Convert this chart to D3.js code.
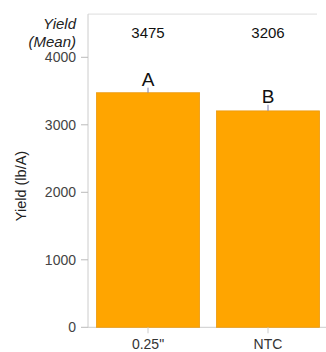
<!DOCTYPE html>
<html><head><meta charset="utf-8">
<script src="https://cdn.jsdelivr.net/npm/d3@7"></script>
<style>body{margin:0;background:#fff}svg{display:block}</style>
</head><body>
<svg id="c" width="326" height="352"></svg>
<script>
const categories = ["0.25\"", "NTC"];
const yieldMeans = [3475, 3206];
const errors = [75, 90];
const letters = ["A", "B"];
const yTicks = [0, 1000, 2000, 3000, 4000];

(function () {
const svg = d3.select("#c");
const font = "Liberation Sans, Arial, sans-serif";
const x = d3.scaleBand().domain(categories).range([88, 328]).paddingInner(0.14).paddingOuter(0.07);
const y = d3.scaleLinear().domain([0, 4000]).range([327.3, 57.3]);
const plotTop = y(4640);

// frame
svg.append("line").attr("x1", 88).attr("x2", 317).attr("y1", plotTop).attr("y2", plotTop).attr("stroke", "#ddd");
svg.append("line").attr("x1", 88).attr("x2", 88).attr("y1", plotTop).attr("y2", y(0)).attr("stroke", "#ccc");
svg.append("line").attr("x1", 88).attr("x2", 326).attr("y1", y(0)).attr("y2", y(0)).attr("stroke", "#ccc");

// y ticks
const yg = svg.append("g");
yg.selectAll("line").data(yTicks).join("line")
  .attr("x1", 81).attr("x2", 88).attr("y1", d => y(d)).attr("y2", d => y(d)).attr("stroke", "#bbb");
yg.selectAll("text").data(yTicks).join("text")
  .attr("x", 76).attr("y", d => y(d)).attr("dy", "0.35em").attr("text-anchor", "end")
  .attr("font-family", font).attr("font-size", 14).attr("fill", "#444").text(d => d);

// bars
const idx = d3.range(categories.length);
svg.selectAll("rect.bar").data(idx).join("rect").attr("class", "bar")
  .attr("x", i => x(categories[i])).attr("width", x.bandwidth())
  .attr("y", i => y(yieldMeans[i])).attr("height", i => y(0) - y(yieldMeans[i]))
  .attr("fill", "#ffa500").attr("stroke", "#eb9a10").attr("stroke-width", 0.8);

// error bars
svg.selectAll("line.err").data(idx).join("line").attr("class", "err")
  .attr("x1", i => x(categories[i]) + x.bandwidth() / 2).attr("x2", i => x(categories[i]) + x.bandwidth() / 2)
  .attr("y1", i => y(yieldMeans[i])).attr("y2", i => y(yieldMeans[i] + errors[i]))
  .attr("stroke", "#7a7fb0").attr("stroke-width", 1);

// letters
svg.selectAll("text.let").data(idx).join("text").attr("class", "let")
  .attr("x", i => x(categories[i]) + x.bandwidth() / 2).attr("y", i => y(yieldMeans[i] + errors[i]) - 2)
  .attr("text-anchor", "middle").attr("font-family", font).attr("font-size", 19).attr("fill", "#111")
  .text(i => letters[i]);

// x ticks and labels
svg.selectAll("line.xt").data(categories).join("line").attr("class", "xt")
  .attr("x1", d => x(d) + x.bandwidth() / 2).attr("x2", d => x(d) + x.bandwidth() / 2)
  .attr("y1", y(0)).attr("y2", y(0) + 6).attr("stroke", "#ccc");
svg.selectAll("text.xl").data(categories).join("text").attr("class", "xl")
  .attr("x", d => x(d) + x.bandwidth() / 2).attr("y", 349)
  .attr("text-anchor", "middle").attr("font-family", font).attr("font-size", 14).attr("fill", "#333").text(d => d);

// mean header
svg.selectAll("text.mean").data(idx).join("text").attr("class", "mean")
  .attr("x", i => x(categories[i]) + x.bandwidth() / 2).attr("y", 38)
  .attr("text-anchor", "middle").attr("font-family", font).attr("font-size", 15).attr("fill", "#111")
  .text(i => yieldMeans[i]);
svg.append("text").attr("x", 76).attr("y", 29).attr("text-anchor", "end").attr("font-family", font)
  .attr("font-size", 15).attr("font-style", "italic").attr("fill", "#222").text("Yield");
svg.append("text").attr("x", 76).attr("y", 47).attr("text-anchor", "end").attr("font-family", font)
  .attr("font-size", 15).attr("font-style", "italic").attr("fill", "#222").text("(Mean)");

// y axis title
svg.append("text").attr("transform", "translate(26,186) rotate(-90)")
  .attr("text-anchor", "middle").attr("font-family", font).attr("font-size", 14.5).attr("fill", "#222")
  .text("Yield (lb/A)");
})();
</script>
</body></html>
